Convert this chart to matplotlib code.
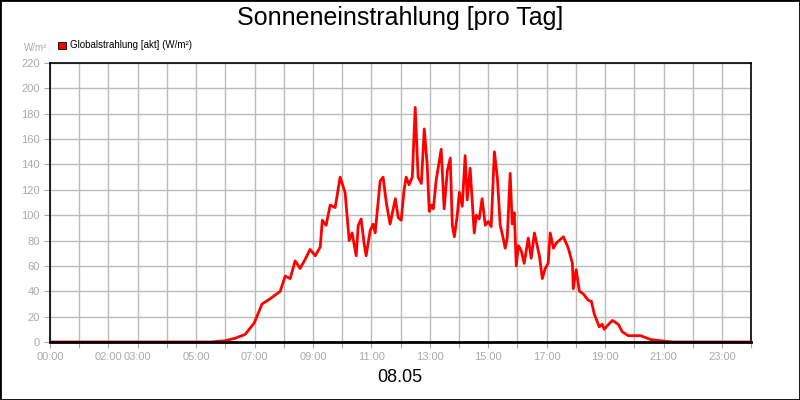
import matplotlib
matplotlib.use('Agg')
import matplotlib.pyplot as plt
from matplotlib.patches import Rectangle

# hours of day and radiation values in W/m2
hours = [0, 5.5, 6.0, 6.34, 6.68, 6.99, 7.26, 7.53, 7.88, 8.05, 8.22, 8.39, 8.56, 8.73, 8.90,
         9.08, 9.25, 9.32, 9.45, 9.59, 9.76, 9.93, 10.10, 10.24, 10.34, 10.48, 10.55, 10.65,
         10.75, 10.82, 10.96, 11.06, 11.13, 11.30, 11.40, 11.51, 11.64, 11.82, 11.92, 12.02,
         12.12, 12.19, 12.29, 12.40, 12.50, 12.60, 12.71, 12.81, 12.91, 12.98, 13.05, 13.12,
         13.22, 13.39, 13.49, 13.60, 13.70, 13.77, 13.84, 13.94, 14.01, 14.11, 14.21, 14.28,
         14.38, 14.52, 14.59, 14.69, 14.79, 14.90, 15.00, 15.10, 15.21, 15.31, 15.41, 15.51,
         15.58, 15.65, 15.75, 15.82, 15.89, 15.96, 16.03, 16.13, 16.23, 16.37, 16.47, 16.58,
         16.75, 16.85, 16.95, 17.05, 17.12, 17.23, 17.33, 17.57, 17.74, 17.88, 17.91, 18.01,
         18.12, 18.25, 18.42, 18.53, 18.63, 18.73, 18.80, 18.90, 18.97, 19.08, 19.25, 19.45,
         19.59, 19.79, 20.21, 20.55, 20.89, 21.30, 24]
values = [0, 0, 1, 3, 6, 15, 30, 34, 40, 52, 50, 64, 58, 65, 73,
          68, 75, 96, 92, 108, 106, 130, 118, 80, 86, 68, 92, 97,
          78, 68, 88, 93, 86, 127, 130, 110, 93, 113, 98, 96,
          120, 130, 124, 130, 185, 130, 125, 168, 140, 103, 108, 105,
          128, 152, 105, 135, 145, 92, 83, 100, 118, 107, 147, 112,
          137, 86, 100, 97, 113, 92, 95, 91, 150, 130, 92, 82,
          74, 82, 133, 93, 102, 60, 76, 72, 62, 82, 66, 86,
          68, 50, 58, 62, 86, 74, 78, 83, 74, 62, 42, 57,
          40, 38, 33, 32, 22, 16, 12, 14, 10, 13, 17, 14,
          8, 5, 5, 2, 1, 0, 0]

tick_hours = [0, 2, 3, 5, 7, 9, 11, 13, 15, 17, 19, 21, 23]
tick_labels = ['00:00', '02:00', '03:00', '05:00', '07:00', '09:00', '11:00',
               '13:00', '15:00', '17:00', '19:00', '21:00', '23:00']

grey = '#aaaaaa'
fig = plt.figure(figsize=(8, 4), dpi=100)
fig.patches.append(Rectangle((0, 0), 1, 1, transform=fig.transFigure, fill=False,
                             edgecolor='black', linewidth=2))
ax = fig.add_axes([0.0625, 0.145, 0.8765, 0.6975])

ax.plot(hours, values, color='#ff0000', lw=2)
ax.set_xlim(0, 24)
ax.set_ylim(0, 220)
ax.set_yticks(range(0, 221, 20))
ax.set_xticks(range(0, 25), minor=False)
ax.set_xticklabels(['' for _ in range(25)])
for h, lab in zip(tick_hours, tick_labels):
    ax.text(h, -8, lab, ha='center', va='top', fontsize=8, color=grey,
            transform=ax.transData, family='Liberation Sans')
ax.grid(True, color='#bbbbbb', lw=1)
ax.set_axisbelow(True)
ax.tick_params(colors=grey, labelsize=8, length=4)
for lab in ax.get_yticklabels():
    lab.set_family('Liberation Sans')
for s in ax.spines.values():
    s.set_color('black')
    s.set_linewidth(1.2)
ax.spines['bottom'].set_linewidth(2)

fig.text(0.5, 0.955, 'Sonneneinstrahlung [pro Tag]', ha='center', va='center',
         fontsize=18, family='Liberation Sans')
fig.text(0.5, 0.055, '08.05', ha='center', va='center', fontsize=13, family='Liberation Sans')
fig.text(0.03, 0.88, 'W/m²', ha='left', va='center', fontsize=7, color=grey, family='Liberation Sans')
fig.patches.append(Rectangle((0.073, 0.877), 0.009, 0.018, transform=fig.transFigure,
                             facecolor='#ff0000', edgecolor='black', lw=0.6))
fig.text(0.087, 0.887, 'Globalstrahlung [akt] (W/m²)', ha='left', va='center', fontsize=7,
         family='Liberation Sans')

fig.savefig('out.png', dpi=100)
